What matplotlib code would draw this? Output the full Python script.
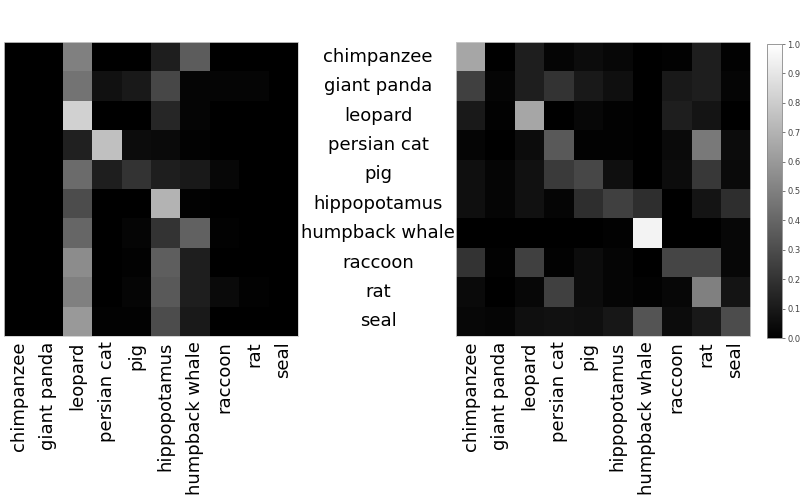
import numpy as np
import matplotlib
matplotlib.use("Agg")
from matplotlib import pyplot as plt
from matplotlib import transforms

classes = ["chimpanzee", "giant panda", "leopard", "persian cat", "pig",
           "hippopotamus", "humpback whale", "raccoon", "rat", "seal"]

# Left confusion matrix (rows: true class, cols: predicted)
left_vals = np.array([
    [0.00, 0.00, 0.50, 0.00, 0.00, 0.12, 0.36, 0.00, 0.00, 0.00],
    [0.00, 0.00, 0.45, 0.07, 0.10, 0.28, 0.02, 0.02, 0.02, 0.00],
    [0.00, 0.00, 0.82, 0.00, 0.00, 0.15, 0.02, 0.00, 0.00, 0.00],
    [0.00, 0.00, 0.13, 0.75, 0.05, 0.04, 0.01, 0.00, 0.00, 0.00],
    [0.00, 0.00, 0.42, 0.12, 0.20, 0.12, 0.10, 0.03, 0.00, 0.00],
    [0.00, 0.00, 0.30, 0.00, 0.00, 0.70, 0.01, 0.00, 0.00, 0.00],
    [0.00, 0.00, 0.40, 0.00, 0.02, 0.20, 0.38, 0.01, 0.00, 0.00],
    [0.00, 0.00, 0.55, 0.00, 0.01, 0.37, 0.12, 0.00, 0.00, 0.00],
    [0.00, 0.00, 0.50, 0.00, 0.02, 0.35, 0.12, 0.04, 0.01, 0.00],
    [0.00, 0.00, 0.60, 0.01, 0.01, 0.30, 0.10, 0.00, 0.00, 0.00],
])

# Right confusion matrix
right_vals = np.array([
    [0.65, 0.00, 0.12, 0.02, 0.05, 0.03, 0.00, 0.01, 0.12, 0.01],
    [0.25, 0.02, 0.12, 0.20, 0.10, 0.06, 0.00, 0.10, 0.12, 0.02],
    [0.10, 0.01, 0.65, 0.00, 0.03, 0.01, 0.00, 0.12, 0.08, 0.00],
    [0.02, 0.00, 0.05, 0.35, 0.01, 0.01, 0.00, 0.04, 0.48, 0.05],
    [0.06, 0.02, 0.07, 0.23, 0.28, 0.06, 0.00, 0.05, 0.22, 0.04],
    [0.06, 0.02, 0.07, 0.02, 0.18, 0.25, 0.18, 0.00, 0.08, 0.18],
    [0.00, 0.00, 0.00, 0.00, 0.00, 0.01, 0.95, 0.00, 0.00, 0.03],
    [0.20, 0.01, 0.25, 0.01, 0.05, 0.02, 0.00, 0.27, 0.27, 0.03],
    [0.04, 0.00, 0.03, 0.25, 0.05, 0.02, 0.01, 0.03, 0.50, 0.08],
    [0.03, 0.02, 0.06, 0.07, 0.06, 0.09, 0.33, 0.05, 0.10, 0.30],
])

fig = plt.figure(figsize=(8, 5), dpi=100)
ax1 = fig.add_axes([0.005, 0.328, 0.3675, 0.588])
ax2 = fig.add_axes([0.57, 0.328, 0.3675, 0.588])
cax = fig.add_axes([0.959, 0.324, 0.018, 0.588])

for ax, vals in [(ax1, left_vals), (ax2, right_vals)]:
    im = ax.imshow(vals, cmap="gray", vmin=0, vmax=1,
                   interpolation="nearest", aspect="auto")
    ax.set_xticks(range(len(classes)))
    ax.set_xticklabels(classes, rotation=90, fontsize=13)
    ax.set_yticks([])
    ax.tick_params(length=0, pad=4)
    for s in ax.spines.values():
        s.set_color("#cccccc")
        s.set_linewidth(0.6)

# class names in between the two matrices
trans = transforms.blended_transform_factory(fig.transFigure, ax2.transData)
for i, name in enumerate(classes):
    ax2.text(0.4725, i, name, transform=trans, ha="center", va="center",
             fontsize=13, clip_on=False)

cb = fig.colorbar(im, cax=cax, ticks=np.arange(0, 1.01, 0.1))
cb.ax.tick_params(labelsize=6, length=2, width=0.5, pad=2,
                  colors="#444444")
cb.outline.set_linewidth(0.6)
cb.outline.set_edgecolor("#888888")

fig.savefig("out.png", dpi=100)
